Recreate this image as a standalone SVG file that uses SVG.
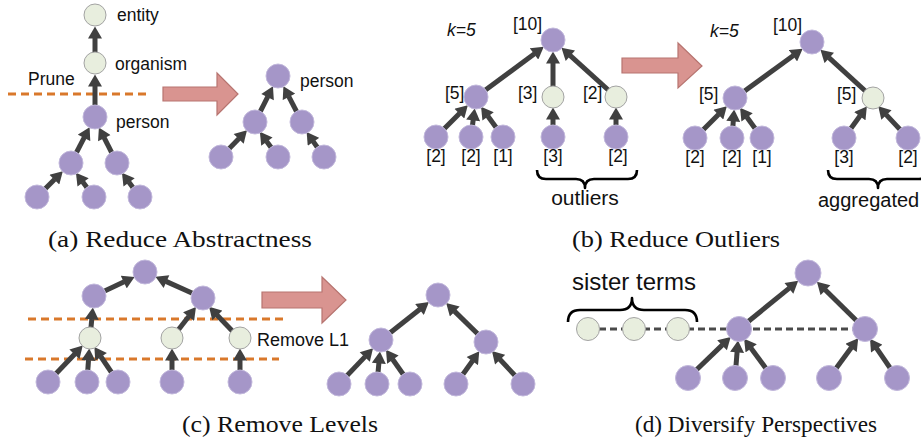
<svg xmlns="http://www.w3.org/2000/svg" width="921" height="444" viewBox="0 0 921 444">
<style>
.p{fill:#A596C8;stroke:#C2B8DC;stroke-width:1}
.l{fill:#E8EEDE;stroke:#A3A3A3;stroke-width:1}
.e{stroke:#404040;stroke-width:5;fill:none;marker-end:url(#ah)}
.od{stroke:#D9782B;stroke-width:3.2;stroke-dasharray:8 5;fill:none}
.gd{stroke:#4a4a4a;stroke-width:3.2;stroke-dasharray:7 4;fill:none}
.br{stroke:#000;stroke-width:2.6;fill:none;stroke-linejoin:round}
.big{fill:#D99490;stroke:#B77470;stroke-width:1.2}
.t{font-family:"Liberation Sans",Arial,sans-serif;font-size:17.5px;fill:#111}
.b{font-family:"Liberation Sans",Arial,sans-serif;font-size:17.5px;fill:#111}
.cap{font-family:"Liberation Serif","DejaVu Serif",serif;font-size:23px;fill:#111}
</style>
<defs>
<marker id="ah" markerUnits="userSpaceOnUse" markerWidth="13" markerHeight="14" viewBox="0 0 12 14" refX="0.5" refY="7" orient="auto">
<path d="M0,0 L12,7 L0,14 z" fill="#404040"/>
</marker>
</defs>

<!-- decorations -->
<g id="guides">
<line class="od" x1="8" y1="94" x2="148" y2="94"/>
<line class="od" x1="28" y1="319" x2="283" y2="319"/>
<line class="od" x1="25" y1="359" x2="279" y2="359"/>
<line class="gd" x1="588" y1="329" x2="865" y2="329"/>
<polygon class="big" points="163,87 217,87 217,73 238,94 217,115 217,101 163,101"/>
<polygon class="big" points="622,58 678,58 678,43 702,66 678,88 678,73 622,73"/>
<polygon class="big" points="262,292 322,292 322,277 346,300 322,323 322,308 262,308"/>
<path class="br" d="M537,170 Q537,179 546,179 L576,179 Q585,179 585,188 Q585,179 594,179 L628,179 Q637,179 637,170"/>
<path class="br" d="M828,170 Q828,179 837,179 L869,179 Q878,179 878,188 Q878,179 887,179 L919,179 Q928,179 928,170"/>
<path class="br" d="M568,322 Q568,310 580,310 L620,310 Q632,310 632,298 Q632,310 644,310 L685,310 Q697,310 697,322"/>
</g>

<g id="connectors">
<!-- a left -->
<line class="e" x1="95" y1="63" x2="95" y2="38"/>
<line class="e" x1="95" y1="117" x2="95" y2="86"/>
<line class="e" x1="71" y1="163" x2="84.3" y2="137.4"/>
<line class="e" x1="117" y1="163" x2="104.1" y2="137.7"/>
<line class="e" x1="37" y1="197" x2="54.7" y2="179.3"/>
<line class="e" x1="94" y1="197" x2="82.8" y2="182"/>
<line class="e" x1="140" y1="197" x2="128.8" y2="182"/>
<!-- a right -->
<line class="e" x1="255" y1="122" x2="267.8" y2="96.6"/>
<line class="e" x1="302" y1="122" x2="288.7" y2="96.4"/>
<line class="e" x1="221" y1="157" x2="239" y2="138.5"/>
<line class="e" x1="278" y1="157" x2="266.6" y2="141.2"/>
<line class="e" x1="324" y1="157" x2="313.2" y2="141.4"/>
<!-- b left -->
<line class="e" x1="476" y1="97" x2="534.5" y2="53.7"/>
<line class="e" x1="553" y1="97" x2="553" y2="63"/>
<line class="e" x1="616" y1="97" x2="570" y2="55.4"/>
<line class="e" x1="436" y1="137" x2="459.7" y2="113.3"/>
<line class="e" x1="471" y1="137" x2="473.2" y2="119.8"/>
<line class="e" x1="503" y1="137" x2="487.8" y2="116"/>
<line class="e" x1="553" y1="137" x2="553" y2="119"/>
<line class="e" x1="616" y1="137" x2="616" y2="119"/>
<!-- b right -->
<line class="e" x1="735" y1="98" x2="793.4" y2="55.5"/>
<line class="e" x1="873" y1="98" x2="828.9" y2="57.6"/>
<line class="e" x1="695" y1="138" x2="718.7" y2="114.3"/>
<line class="e" x1="732" y1="138" x2="733.3" y2="120.9"/>
<line class="e" x1="762" y1="138" x2="746.8" y2="117"/>
<line class="e" x1="844" y1="138" x2="860.1" y2="115.8"/>
<line class="e" x1="908" y1="138" x2="886.1" y2="114.6"/>
<!-- c left -->
<line class="e" x1="94" y1="296" x2="124.2" y2="281.8"/>
<line class="e" x1="203" y1="298" x2="166" y2="281.4"/>
<line class="e" x1="90" y1="338" x2="91.8" y2="318.9"/>
<line class="e" x1="172" y1="338" x2="188.9" y2="316.2"/>
<line class="e" x1="239" y1="338" x2="217" y2="315.1"/>
<line class="e" x1="48" y1="382" x2="74.8" y2="353.9"/>
<line class="e" x1="87" y1="382" x2="88.5" y2="360"/>
<line class="e" x1="118" y1="382" x2="100.8" y2="356.5"/>
<line class="e" x1="172" y1="382" x2="172" y2="360"/>
<line class="e" x1="240" y1="382" x2="240" y2="360"/>
<!-- c right -->
<line class="e" x1="381" y1="340" x2="419.9" y2="309.2"/>
<line class="e" x1="486" y1="342" x2="454.4" y2="311.1"/>
<line class="e" x1="339" y1="384" x2="365.1" y2="356.6"/>
<line class="e" x1="377" y1="384" x2="378.9" y2="362.9"/>
<line class="e" x1="410" y1="384" x2="392.6" y2="359.2"/>
<line class="e" x1="456" y1="384" x2="472.6" y2="360.7"/>
<line class="e" x1="523" y1="384" x2="499.8" y2="359.3"/>
<!-- d -->
<line class="e" x1="739" y1="329" x2="789.3" y2="288.1"/>
<line class="e" x1="865" y1="329" x2="825.1" y2="289.8"/>
<line class="e" x1="688" y1="378" x2="722.4" y2="344.9"/>
<line class="e" x1="735" y1="378" x2="737.1" y2="351.9"/>
<line class="e" x1="773" y1="378" x2="750.9" y2="347.9"/>
<line class="e" x1="829" y1="378" x2="851.4" y2="347.5"/>
<line class="e" x1="897" y1="378" x2="876.5" y2="348.2"/>
</g>

<!-- panel a -->
<g id="a-entity"><circle class="l" cx="95" cy="15" r="11"/><text class="t" x="117" y="21">entity</text></g>
<g id="a-organism"><circle class="l" cx="95" cy="63" r="11"/><text class="t" x="115" y="70">organism</text></g>
<g id="a-person"><circle class="p" cx="95" cy="117" r="12"/><text class="t" x="116" y="128">person</text></g>
<g id="a-m1"><circle class="p" cx="71" cy="163" r="12"/></g>
<g id="a-m2"><circle class="p" cx="117" cy="163" r="12"/></g>
<g id="a-l1"><circle class="p" cx="37" cy="197" r="12"/></g>
<g id="a-l2"><circle class="p" cx="94" cy="197" r="12"/></g>
<g id="a-l3"><circle class="p" cx="140" cy="197" r="12"/></g>
<g id="a-prune"><text class="t" x="28" y="85">Prune</text></g>
<g id="a2-person"><circle class="p" cx="278" cy="76" r="12"/><text class="t" x="300" y="87">person</text></g>
<g id="a2-m1"><circle class="p" cx="255" cy="122" r="12"/></g>
<g id="a2-m2"><circle class="p" cx="302" cy="122" r="12"/></g>
<g id="a2-l1"><circle class="p" cx="221" cy="157" r="12"/></g>
<g id="a2-l2"><circle class="p" cx="278" cy="157" r="12"/></g>
<g id="a2-l3"><circle class="p" cx="324" cy="157" r="12"/></g>

<!-- panel b left -->
<g id="b-k"><text class="t" x="447" y="36" style="font-style:italic">k=5</text></g>
<g id="b-root"><circle class="p" cx="553" cy="40" r="12"/><text class="b" x="513" y="30">[10]</text></g>
<g id="b-f"><circle class="p" cx="476" cy="97" r="12"/><text class="b" x="445" y="99">[5]</text></g>
<g id="b-g"><circle class="l" cx="553" cy="97" r="11"/><text class="b" x="518" y="99">[3]</text></g>
<g id="b-h"><circle class="l" cx="616" cy="97" r="11"/><text class="b" x="583" y="99">[2]</text></g>
<g id="b-l1"><circle class="p" cx="436" cy="137" r="12"/><text class="b" x="436" y="162" text-anchor="middle">[2]</text></g>
<g id="b-l2"><circle class="p" cx="471" cy="137" r="12"/><text class="b" x="471" y="162" text-anchor="middle">[2]</text></g>
<g id="b-l3"><circle class="p" cx="503" cy="137" r="12"/><text class="b" x="503" y="162" text-anchor="middle">[1]</text></g>
<g id="b-l4"><circle class="p" cx="553" cy="137" r="12"/><text class="b" x="553" y="162" text-anchor="middle">[3]</text></g>
<g id="b-l5"><circle class="p" cx="616" cy="137" r="12"/><text class="b" x="618" y="162" text-anchor="middle">[2]</text></g>
<g id="b-outliers"><text class="t" x="585" y="205" text-anchor="middle" style="font-size:21px">outliers</text></g>

<!-- panel b right -->
<g id="b2-k"><text class="t" x="710" y="37" style="font-style:italic">k=5</text></g>
<g id="b2-root"><circle class="p" cx="812" cy="42" r="12"/><text class="b" x="773" y="31">[10]</text></g>
<g id="b2-f"><circle class="p" cx="735" cy="98" r="12"/><text class="b" x="699" y="100">[5]</text></g>
<g id="b2-g"><circle class="l" cx="873" cy="98" r="11"/><text class="b" x="837" y="100">[5]</text></g>
<g id="b2-l1"><circle class="p" cx="695" cy="138" r="12"/><text class="b" x="695" y="163" text-anchor="middle">[2]</text></g>
<g id="b2-l2"><circle class="p" cx="732" cy="138" r="12"/><text class="b" x="732" y="163" text-anchor="middle">[2]</text></g>
<g id="b2-l3"><circle class="p" cx="762" cy="138" r="12"/><text class="b" x="762" y="163" text-anchor="middle">[1]</text></g>
<g id="b2-l4"><circle class="p" cx="844" cy="138" r="12"/><text class="b" x="844" y="163" text-anchor="middle">[3]</text></g>
<g id="b2-l5"><circle class="p" cx="908" cy="138" r="12"/><text class="b" x="908" y="163" text-anchor="middle">[2]</text></g>
<g id="b2-agg"><text class="t" x="818" y="207" style="font-size:20px">aggregated</text></g>

<!-- panel c left -->
<g id="c-root"><circle class="p" cx="145" cy="272" r="12"/></g>
<g id="c-a"><circle class="p" cx="94" cy="296" r="12"/></g>
<g id="c-b"><circle class="p" cx="203" cy="298" r="12"/></g>
<g id="c-c1"><circle class="l" cx="90" cy="338" r="11"/></g>
<g id="c-c2"><circle class="l" cx="172" cy="338" r="11"/></g>
<g id="c-c3"><circle class="l" cx="240" cy="338" r="11"/></g>
<g id="c-l1"><circle class="p" cx="48" cy="382" r="12"/></g>
<g id="c-l2"><circle class="p" cx="87" cy="382" r="12"/></g>
<g id="c-l3"><circle class="p" cx="118" cy="382" r="12"/></g>
<g id="c-l4"><circle class="p" cx="172" cy="382" r="12"/></g>
<g id="c-l5"><circle class="p" cx="240" cy="382" r="12"/></g>
<g id="c-remove"><text class="t" x="257" y="346" style="font-size:18px">Remove L1</text></g>

<!-- panel c right -->
<g id="c2-root"><circle class="p" cx="438" cy="295" r="12"/></g>
<g id="c2-m1"><circle class="p" cx="381" cy="340" r="12"/></g>
<g id="c2-m2"><circle class="p" cx="486" cy="342" r="12"/></g>
<g id="c2-l1"><circle class="p" cx="339" cy="384" r="12"/></g>
<g id="c2-l2"><circle class="p" cx="377" cy="384" r="12"/></g>
<g id="c2-l3"><circle class="p" cx="410" cy="384" r="12"/></g>
<g id="c2-l4"><circle class="p" cx="456" cy="384" r="12"/></g>
<g id="c2-l5"><circle class="p" cx="523" cy="384" r="12"/></g>

<!-- panel d -->
<g id="d-sister"><text class="t" x="572" y="290" style="font-size:24px">sister terms</text></g>
<g id="d-s1"><circle class="l" cx="588" cy="329" r="11.5"/></g>
<g id="d-s2"><circle class="l" cx="634" cy="329" r="11.5"/></g>
<g id="d-s3"><circle class="l" cx="678" cy="329" r="11.5"/></g>
<g id="d-root"><circle class="p" cx="808" cy="273" r="13"/></g>
<g id="d-m1"><circle class="p" cx="739" cy="329" r="12.5"/></g>
<g id="d-m2"><circle class="p" cx="865" cy="329" r="12.5"/></g>
<g id="d-l1"><circle class="p" cx="688" cy="378" r="12.5"/></g>
<g id="d-l2"><circle class="p" cx="735" cy="378" r="12.5"/></g>
<g id="d-l3"><circle class="p" cx="773" cy="378" r="12.5"/></g>
<g id="d-l4"><circle class="p" cx="829" cy="378" r="12.5"/></g>
<g id="d-l5"><circle class="p" cx="897" cy="378" r="12.5"/></g>

<!-- captions -->
<g id="captions">
<text class="cap" x="48" y="247" textLength="264" lengthAdjust="spacingAndGlyphs">(a) Reduce Abstractness</text>
<text class="cap" x="572" y="247" textLength="208" lengthAdjust="spacingAndGlyphs">(b) Reduce Outliers</text>
<text class="cap" x="182" y="432" textLength="196" lengthAdjust="spacingAndGlyphs">(c) Remove Levels</text>
<text class="cap" x="635" y="432" textLength="242" lengthAdjust="spacingAndGlyphs">(d) Diversify Perspectives</text>
</g>
</svg>
